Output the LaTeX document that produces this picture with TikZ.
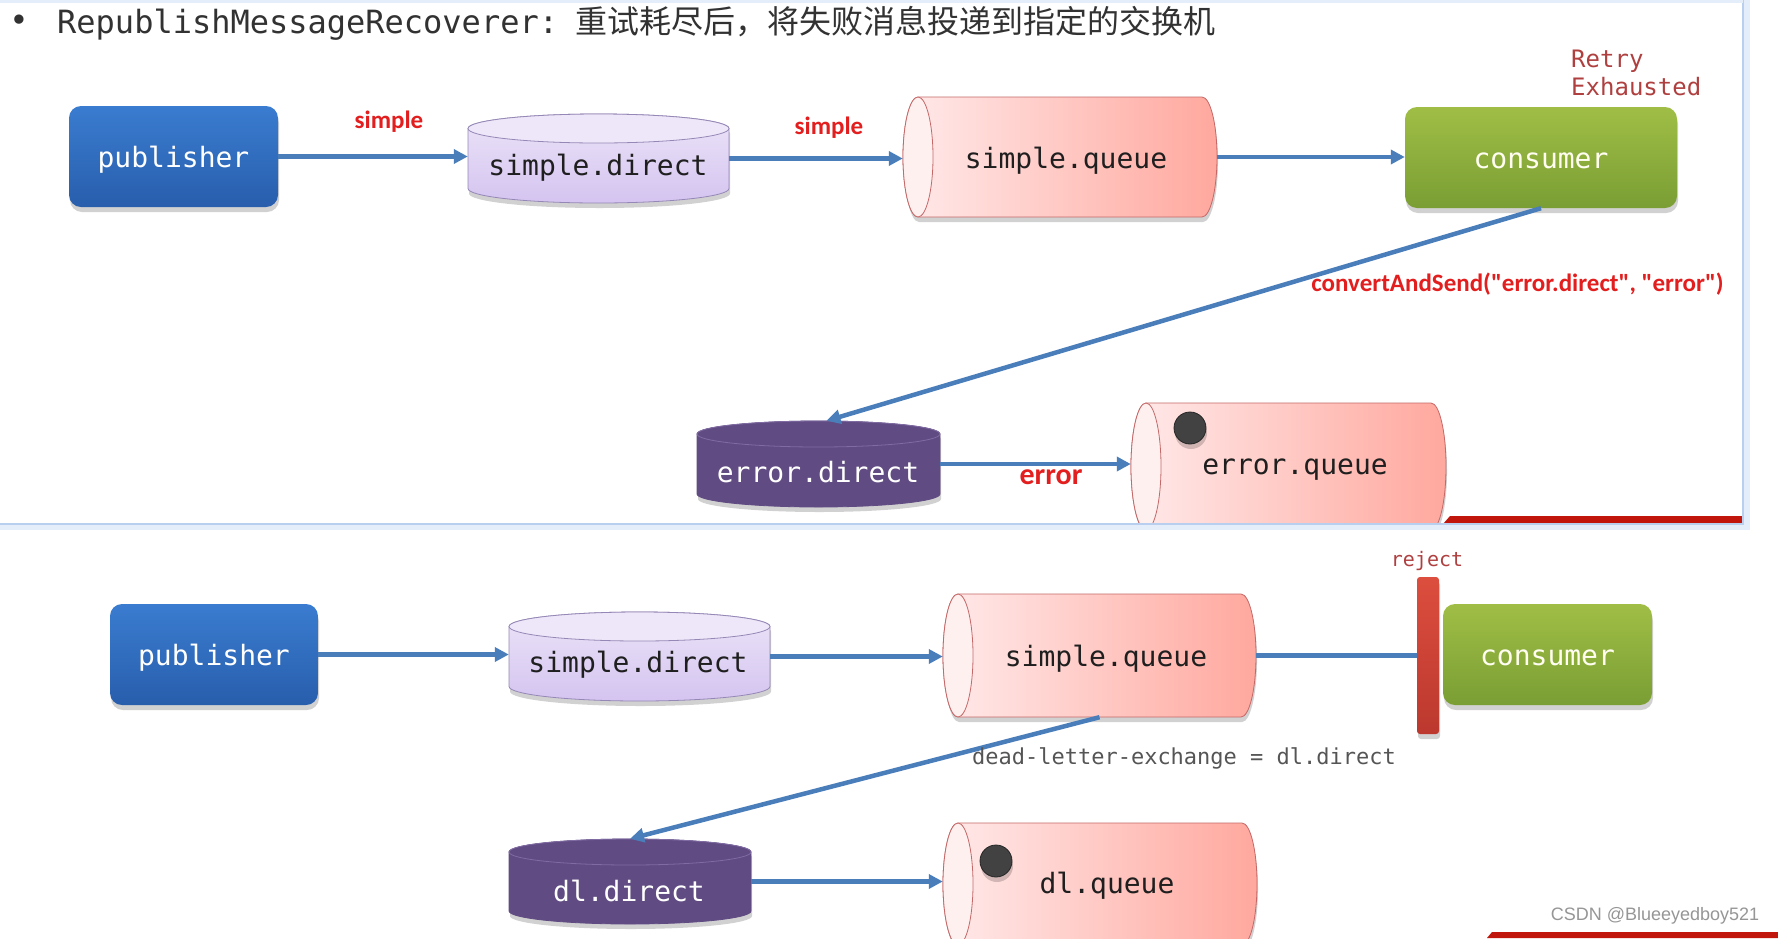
\documentclass[tikz,border=0pt]{standalone}
\usepackage{fontspec}
\setmainfont{DejaVu Sans}
\setmonofont{DejaVu Sans Mono}
\newfontfamily\cjkfont{Noto Sans CJK SC}
\newfontfamily\carlfont{Carlito}
\newfontfamily\arialfont{Liberation Sans}
\usetikzlibrary{arrows.meta,shadows,calc}

\definecolor{flowblue}{RGB}{74,126,187}
\definecolor{pubtop}{RGB}{58,124,208}
\definecolor{pubbot}{RGB}{40,94,172}
\definecolor{constop}{RGB}{160,190,70}
\definecolor{consbot}{RGB}{122,158,52}
\definecolor{sdtop}{RGB}{236,228,248}
\definecolor{sdbot}{RGB}{212,196,240}
\definecolor{sdface}{RGB}{238,231,249}
\definecolor{sdborder}{RGB}{150,136,182}
\definecolor{edfill}{RGB}{96,75,130}
\definecolor{edline}{RGB}{128,108,162}
\definecolor{qleft}{RGB}{255,234,234}
\definecolor{qright}{RGB}{255,168,158}
\definecolor{qface}{RGB}{255,240,240}
\definecolor{qborder}{RGB}{196,104,104}
\definecolor{labelred}{RGB}{226,30,30}
\definecolor{retryred}{RGB}{176,64,64}
\definecolor{dlgray}{RGB}{85,85,85}
\definecolor{wmgray}{RGB}{150,150,150}
\definecolor{titlegray}{RGB}{50,50,50}
\definecolor{dotgray}{RGB}{66,66,66}
\definecolor{rejtop}{RGB}{220,78,62}
\definecolor{rejbot}{RGB}{188,56,46}
\definecolor{stripred}{RGB}{192,22,12}
\definecolor{panelblue}{RGB}{185,207,240}
\definecolor{panelglow}{RGB}{228,237,250}

\tikzset{
  flow/.style={draw=flowblue, line width=4.5pt, -{Triangle[length=14pt,width=14pt]}},
  flowplain/.style={draw=flowblue, line width=4.5pt},
  monolabel/.style={font=\ttfamily\fontsize{28}{30}\selectfont},
  redlabel/.style={font=\carlfont\bfseries\fontsize{25}{27}\selectfont, text=labelred, inner sep=0pt},
  anchorbox/.style={inner sep=0pt, draw=none},
  softshadow/.style={drop shadow={shadow xshift=1pt, shadow yshift=-5pt, opacity=0.18, fill=black}},
  pubbox/.style={rounded corners=12pt, top color=pubtop, bottom color=pubbot, draw=none,
    text=white, monolabel, text depth=0pt, inner sep=0pt, softshadow},
  consbox/.style={rounded corners=12pt, top color=constop, bottom color=consbot, draw=none,
    text=white!94!yellow, monolabel, text height=21pt, text depth=0pt, inner sep=0pt, softshadow},
  sdbody/.style={top color=sdtop, bottom color=sdbot, draw=sdborder, line width=0.8pt},
  sdtopface/.style={fill=sdface, draw=sdborder, line width=0.8pt},
  edbody/.style={fill=edfill, draw=edfill, line width=0.8pt},
  edtopface/.style={fill=edfill, draw=edline, line width=0.8pt},
  darktext/.style={monolabel, text=black!88},
  whitetext/.style={monolabel, text=white},
  msgdot/.style={circle, fill=dotgray, draw=black!85, line width=0.8pt, minimum size=32pt, inner sep=0pt, softshadow},
}

% horizontal queue cylinder: x1 y1 x2 y2 name
\newcommand\hqueue[5]{%
  \pgfmathsetmacro\hqry{(#4-#2)/2}%
  \pgfmathsetmacro\hqcy{(#2+#4)/2}%
  \pgfmathsetmacro\hqxa{#1+15}%
  \pgfmathsetmacro\hqxb{#3-15}%
  \pgfmathsetmacro\hqw{#3-#1}%
  \pgfmathsetmacro\hqh{#4-#2}%
  \pgfmathsetmacro\hqcx{(#1+#3)/2}%
  \path[softshadow, left color=qleft, right color=qright, draw=qborder, line width=0.8pt]
    (\hqxa,#2) -- (\hqxb,#2) arc[start angle=90, end angle=-90, x radius=15pt, y radius=\hqry pt]
    -- (\hqxa,#4) arc[start angle=270, end angle=90, x radius=15pt, y radius=\hqry pt] -- cycle;
  \draw[fill=qface, draw=qborder, line width=0.8pt] (\hqxa,\hqcy) ellipse[x radius=15pt, y radius=\hqry pt];
  \node[anchorbox, minimum width=\hqw pt, minimum height=\hqh pt] (#5) at (\hqcx,\hqcy) {};
}

% vertical exchange cylinder: x1 y1 x2 y2 ry bodystyle topstyle name
\newcommand\vcyl[8]{%
  \pgfmathsetmacro\vcrx{(#3-#1)/2}%
  \pgfmathsetmacro\vccx{(#1+#3)/2}%
  \pgfmathsetmacro\vccy{(#2+#4)/2}%
  \pgfmathsetmacro\vcya{#2+#5}%
  \pgfmathsetmacro\vcyb{#4-#5}%
  \pgfmathsetmacro\vcw{#3-#1}%
  \pgfmathsetmacro\vch{#4-#2}%
  \path[softshadow, #6] (#1,\vcya) -- (#1,\vcyb)
    arc[start angle=180, end angle=360, x radius=\vcrx pt, y radius=#5pt]
    -- (#3,\vcya) arc[start angle=0, end angle=180, x radius=\vcrx pt, y radius=#5pt] -- cycle;
  \path[#7] (\vccx,\vcya) ellipse[x radius=\vcrx pt, y radius=#5pt];
  \node[anchorbox, minimum width=\vcw pt, minimum height=\vch pt] (#8) at (\vccx,\vccy) {};
}

\begin{document}
\begin{tikzpicture}[x=1pt,y=-1pt]
\useasboundingbox (0,0) rectangle (1778,938);
\fill[white] (0,0) rectangle (1778,938);

% ---------- title ----------
\node[text=titlegray, font=\ttfamily\fontsize{32}{34}\selectfont, inner sep=0pt] (bullet) at (19,23) {•};
\node[anchor=west, text=titlegray, inner sep=0pt] (title) at (57,23)
  {\ttfamily\fontsize{32}{34}\selectfont RepublishMessageRecoverer:\hspace{17pt}\cjkfont\fontsize{32}{34}\selectfont 重试耗尽后，将失败消息投递到指定的交换机};

% ---------- top diagram ----------
\node[pubbox, minimum width=209pt, minimum height=101pt] (pub1) at (173.5,156.5) {publisher};
\vcyl{468}{114}{729}{203}{14.5}{sdbody}{sdtopface}{sd1}
\node[darktext] (sd1t) at (598,168) {simple.direct};
\hqueue{903}{97}{1217}{217}{sq1}
\node[darktext] (sq1t) at (1066,161) {simple.queue};
\node[consbox, minimum width=272pt, minimum height=101pt] (cons1) at (1541,157.5) {consumer};

\vcyl{697}{421}{940}{507}{13}{edbody}{edtopface}{ed}
\node[whitetext] (edt) at (818,472) {error.direct};
\hqueue{1131}{403}{1446}{530}{eq}
\node[darktext] (eqt) at (1295,470) {error.queue};
\node[msgdot] (dot1) at (1190,428) {};

\draw[flow] (pub1.east) -- (pub1.east -| sd1.west);
\draw[flow] (sd1.east) -- (sd1.east -| sq1.west);
\draw[flow] (sq1.east) -- (sq1.east -| cons1.west);
\draw[flow] (cons1.south) -- ($(ed.north)+(8,0)$);
\draw[flow] (ed.east) -- (ed.east -| eq.west);

\node[redlabel] (lbl1) at (389,122) {simple};
\node[redlabel] (lbl2) at (829,128) {simple};
\node[redlabel, font=\carlfont\bfseries\fontsize{30}{32}\selectfont] (lbl3) at (1051,477) {error};
\node[redlabel, anchor=east] (lbl4) at (1724,284) {convertAndSend("error.direct", "error")};
\node[anchor=west, align=left, text=retryred, font=\ttfamily\fontsize{24}{28}\selectfont, inner sep=0pt] (retry) at (1571,73) {Retry\\Exhausted};

% ---------- panel edge ----------
\fill[white] (0,525) rectangle (1778,938);
\fill[stripred] (1450,516) -- (1743,516) -- (1743,524) -- (1443,524) -- cycle;
\draw[panelglow, line width=7pt] (0,526) -- (1746,526) -- (1746,0);
\draw[panelblue, line width=2.5pt] (0,524) -- (1743,524) -- (1743,0);
\draw[panelglow, line width=3pt] (0,1) -- (1743,1);

% ---------- bottom diagram ----------
\node[pubbox, minimum width=208pt, minimum height=101pt] (pub2) at (214,654.5) {publisher};
\vcyl{509}{612}{770}{701}{14.5}{sdbody}{sdtopface}{sd2}
\node[darktext] (sd2t) at (638,665) {simple.direct};
\hqueue{943}{594}{1256}{717}{sq2}
\node[darktext] (sq2t) at (1106,659) {simple.queue};
\node[top color=rejtop, bottom color=rejbot, rounded corners=3pt, minimum width=22pt, minimum height=157pt, inner sep=0pt, softshadow] (bar) at (1428,655.5) {};
\node[consbox, minimum width=209pt, minimum height=101pt] (cons2) at (1547.5,654.5) {consumer};
\node[text=retryred, font=\ttfamily\fontsize{20}{24}\selectfont, inner sep=0pt] (rej) at (1427,561) {reject};

\vcyl{509}{839}{751}{924}{13}{edbody}{edtopface}{dd}
\node[whitetext] (ddt) at (629,891) {dl.direct};
\hqueue{943}{823}{1257}{945}{dq}
\node[darktext] (dqt) at (1107,886) {dl.queue};
\node[msgdot] (dot2) at (996,861) {};

\draw[flow] (pub2.east) -- (pub2.east -| sd2.west);
\draw[flow] (sd2.east) -- (sd2.east -| sq2.west);
\draw[flowplain] (sq2.east) -- (sq2.east -| bar.west);
\draw[flow] (sq2.south) -- (dd.north);
\draw[flow] (dd.east) -- (dd.east -| dq.west);

\node[text=dlgray, font=\ttfamily\fontsize{22}{26}\selectfont, inner sep=0pt] (dlx) at (1184,758) {dead-letter-exchange = dl.direct};

\node[text=wmgray, font=\arialfont\fontsize{18}{20}\selectfont, inner sep=0pt] (wm) at (1655,916) {CSDN @Blueeyedboy521};
\fill[stripred] (1492,932) -- (1778,932) -- (1778,938) -- (1487,938) -- cycle;
\end{tikzpicture}
\end{document}
